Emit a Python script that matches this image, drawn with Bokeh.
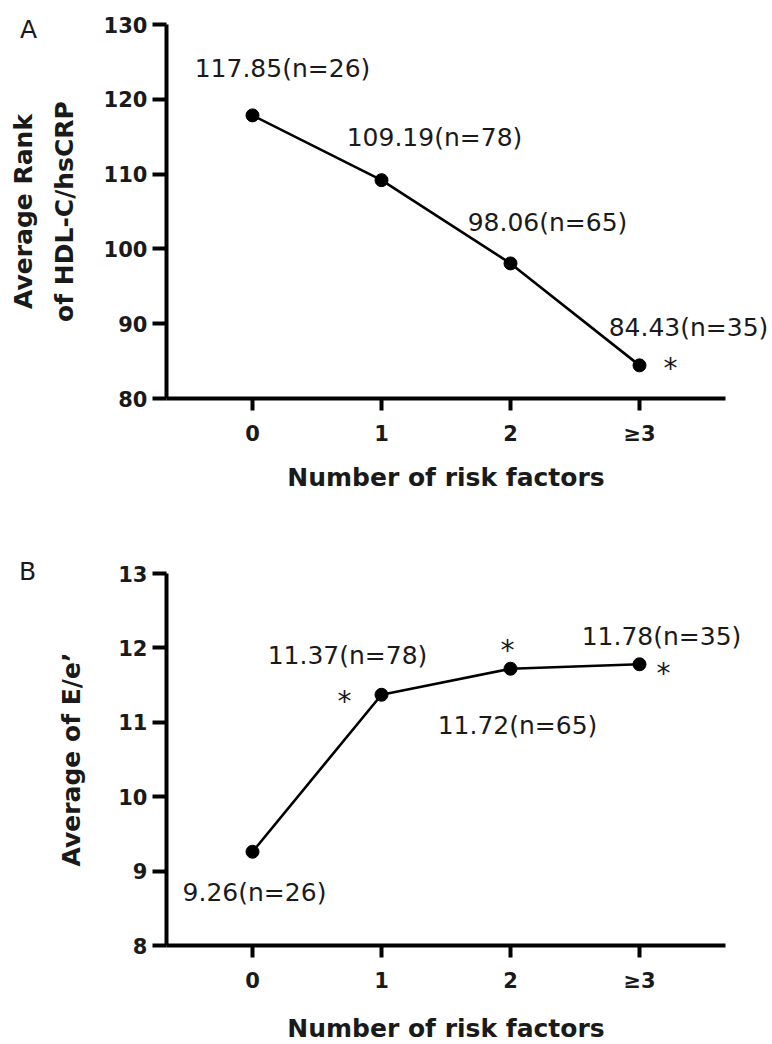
from bokeh.plotting import figure
from bokeh.models import ColumnDataSource, LabelSet, Label, FixedTicker, Range1d
from bokeh.layouts import column
from bokeh.core.properties import value
from bokeh.embed import file_html
from bokeh.resources import INLINE

# ---------------- data ----------------
categories = ["0", "1", "2", "≥3"]
n_counts = [26, 78, 65, 35]
rank_values = [117.85, 109.19, 98.06, 84.43]      # panel A
ee_values = [9.26, 11.37, 11.72, 11.78]           # panel B
rank_sig = [False, False, False, True]
ee_sig = [False, True, True, True]
rank_ticks = [80, 90, 100, 110, 120, 130]
ee_ticks = [8, 9, 10, 11, 12, 13]

# ---------------- styling / layout ----------------
FONT = "DejaVu Sans"
W = 772
X0_PX = 252          # pixel of first category
X_STEP = 129         # pixels per category
X_BOUNDS = (-0.667, 3.667)

# label offsets (screen px, right/up) per point
A_LAB_OFF = [(30, 47), (53, 43), (37, 41), (49, 38)]
A_STAR_OFF = [(0, 0), (0, 0), (0, 0), (31, -3)]
B_LAB_OFF = [(2, -41), (-34, 39), (7, -57), (22, 28)]
B_STAR_OFF = [(0, 0), (-37, -7), (-3, 18), (24, -9)]


def make_panel(letter, letter_px, values, sig, yticks, ylabel, height, ytop_px, ybot_px,
               lab_off, star_off, ylabel_standoff, xlabel_standoff):
    ys = (ybot_px - ytop_px) / (yticks[-1] - yticks[0])
    y_start = yticks[0] - (height - ybot_px) / ys
    y_end = yticks[-1] + ytop_px / ys
    x_start = -X0_PX / X_STEP
    x_end = (W - X0_PX) / X_STEP
    p = figure(width=W, height=height, x_range=Range1d(x_start, x_end),
               y_range=Range1d(y_start, y_end),
               output_backend="svg", toolbar_location=None,
               min_border=0, min_border_left=0, min_border_right=0,
               min_border_top=0, min_border_bottom=0)
    p.outline_line_color = None
    p.xgrid.visible = False
    p.ygrid.visible = False
    p.background_fill_color = "white"
    p.border_fill_color = "white"

    xs = list(range(len(categories)))
    texts = [f"{v:.2f}(n={n})" for v, n in zip(values, n_counts)]
    src = ColumnDataSource(dict(x=xs, y=values, text=texts,
                                dx=[o[0] for o in lab_off],
                                dy=[o[1] for o in lab_off]))
    p.line("x", "y", source=src, line_width=2.6, line_color="black")
    p.scatter("x", "y", source=src, size=13, fill_color="black", line_color="black")
    p.add_layout(LabelSet(x="x", y="y", text="text", x_offset="dx", y_offset="dy",
                          source=src, text_font=value(FONT), text_font_size="25px",
                          text_align="center", text_baseline="middle",
                          text_color="#1a1a1a"))

    sx = [x for x, s in zip(xs, sig) if s]
    sy = [v for v, s in zip(values, sig) if s]
    sdx = [o[0] for o, s in zip(star_off, sig) if s]
    sdy = [o[1] for o, s in zip(star_off, sig) if s]
    ssrc = ColumnDataSource(dict(x=sx, y=sy, text=["*"] * len(sx), dx=sdx, dy=sdy))
    p.add_layout(LabelSet(x="x", y="y", text="text", x_offset="dx", y_offset="dy",
                          source=ssrc, text_font=value(FONT), text_font_size="28px",
                          text_align="center", text_baseline="middle",
                          text_color="#1a1a1a"))

    # axes (drawn at fixed data locations, limited by bounds)
    for ax in (p.xaxis[0], p.yaxis[0]):
        ax.axis_line_width = 4
        ax.axis_line_color = "black"
        ax.major_tick_line_width = 4
        ax.major_tick_line_color = "black"
        ax.major_tick_in = 0
        ax.minor_tick_line_color = None
        ax.major_label_text_font = FONT
        ax.major_label_text_font_style = "bold"
        ax.major_label_text_font_size = "21px"
        ax.major_label_text_color = "#1a1a1a"
        ax.axis_label_text_font = FONT
        ax.axis_label_text_font_style = "bold"
        ax.axis_label_text_font_size = "25px"
        ax.axis_label_text_color = "#1a1a1a"
    p.yaxis.axis_label_text_line_height = 1.4
    p.xaxis.fixed_location = yticks[0]
    p.xaxis.bounds = X_BOUNDS
    p.xaxis.ticker = FixedTicker(ticks=xs)
    p.xaxis.major_label_overrides = {i: c for i, c in enumerate(categories)}
    p.xaxis.major_tick_out = 12
    p.xaxis.major_label_standoff = 11
    p.xaxis.axis_label = "Number of risk factors"
    p.xaxis.axis_label_standoff = xlabel_standoff
    p.yaxis.fixed_location = X_BOUNDS[0]
    p.yaxis.bounds = (yticks[0], yticks[-1])
    p.yaxis.ticker = FixedTicker(ticks=yticks)
    p.yaxis.major_tick_out = 14
    p.yaxis.major_label_standoff = 5
    p.yaxis.axis_label = ylabel
    p.yaxis.axis_label_standoff = ylabel_standoff

    # panel letter at a fixed pixel spot, converted to data units
    lx = x_start + letter_px[0] / X_STEP
    ly = y_end - letter_px[1] / ys
    p.add_layout(Label(x=lx, y=ly, text=letter, text_font=FONT, text_font_size="25px",
                       text_align="center", text_baseline="middle", text_color="#1a1a1a"))
    return p


pa = make_panel("A", (28, 29), rank_values, rank_sig, rank_ticks,
                "Average Rank\nof HDL-C/hsCRP",
                height=520, ytop_px=24, ybot_px=398,
                lab_off=A_LAB_OFF, star_off=A_STAR_OFF,
                ylabel_standoff=22, xlabel_standoff=14)
pb = make_panel("B", (27, 51), ee_values, ee_sig, ee_ticks, "Average of E/e\u2019",
                height=524, ytop_px=53, ybot_px=425,
                lab_off=B_LAB_OFF, star_off=B_STAR_OFF,
                ylabel_standoff=29, xlabel_standoff=18)

layout = column(pa, pb, spacing=0)
open("out.html", "w").write(file_html(layout, INLINE))
